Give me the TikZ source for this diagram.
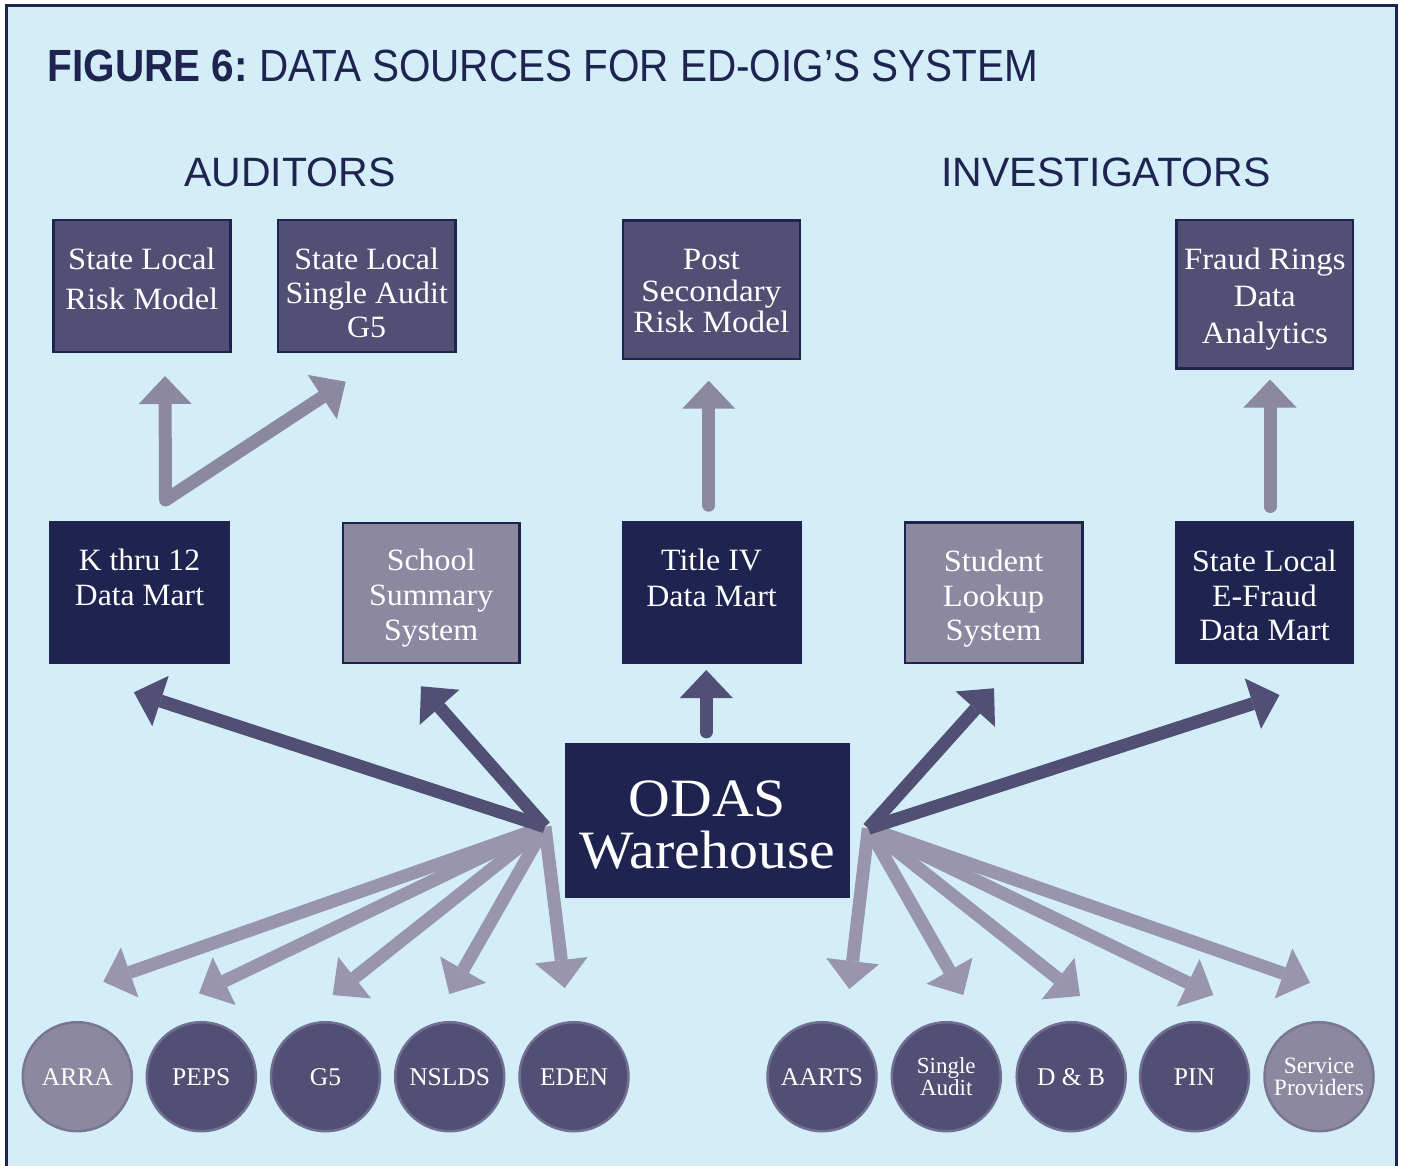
\documentclass[tikz,border=0pt]{standalone}
\usepackage{fontspec}
\setmainfont{Liberation Serif}
\newfontfamily\hvfont{Liberation Sans}
\usepackage{graphicx}
\usetikzlibrary{arrows.meta}
\definecolor{bg}{HTML}{D3EEF8}
\definecolor{navy}{HTML}{1E2350}
\definecolor{purp}{HTML}{524F74}
\definecolor{lpurp}{HTML}{8C889F}
\definecolor{arrtop}{HTML}{8C889F}
\definecolor{arrlow}{HTML}{9995AD}
\definecolor{cbord}{HTML}{726E92}
\definecolor{lcbord}{HTML}{7A7594}
\newcommand\boxlines[4]{{\fontsize{#1}{#2}\selectfont\scalebox{#3}[1]{\begin{tabular}[t]{@{}c@{}}#4\end{tabular}}}}
\begin{document}
\begin{tikzpicture}[x=1pt,y=-1pt,
  >={Triangle[length=28pt,width=53pt,line width=0pt]},
  conn/.style={line width=13pt,->},
  darkc/.style={conn,draw=purp},
  lowc/.style={conn,draw=arrlow},
  topc/.style={conn,draw=arrtop,line cap=round},
  pbox/.style={rectangle,fill=purp,draw=navy,line width=2.5pt,inner sep=0pt},
  lbox/.style={rectangle,fill=lpurp,draw=navy,line width=2.5pt,inner sep=0pt},
  nbox/.style={rectangle,fill=navy,inner sep=0pt},
  btxt/.style={anchor=base,inner sep=0pt,text=white},
  dcirc/.style={circle,minimum size=109pt,fill=purp,draw=cbord,line width=2.5pt,inner sep=0pt,text=white,font=\fontsize{25.5}{25.5}\selectfont},
  lcirc/.style={dcirc,fill=lpurp,draw=lcbord},
  head/.style={anchor=base,inner sep=0pt,text=navy,font=\hvfont\fontsize{41}{41}\selectfont}
]
\useasboundingbox (0,0) rectangle (1403,1165);
\clip (0,0) rectangle (1403,1165);
\fill[white] (0,0) rectangle (1403,1165);
\draw[navy,line width=2.5pt,fill=bg] (6.5,5.5) rectangle (1396.5,1190);

% title and headings
\node[anchor=base west,inner sep=0pt,text=navy,font=\hvfont] (title) at (47.5,81.7)
  {\resizebox{990pt}{31.5pt}{\bfseries FIGURE 6:\mdseries\ DATA SOURCES FOR ED-OIG’S SYSTEM}};
\node[head] (aud) at (290,186.7) {AUDITORS};
\node[head] (inv) at (1106,186.7) {INVESTIGATORS};

% named coordinates for connector ends
\coordinate (L) at (545,826.7);
\coordinate (R) at (868.3,828.3);
\coordinate (tK) at (133.9,692.3);
\coordinate (tS) at (421,686.3);
\coordinate (tSL) at (994,688.3);
\coordinate (tEF) at (1279.5,695);
\coordinate (oTop) at (706.3,731.8);
\coordinate (tT) at (706.3,670);
\coordinate (tArra) at (103.3,981.7);
\coordinate (tPeps) at (199,993.3);
\coordinate (tG) at (332.7,995);
\coordinate (tNs) at (449.3,994);
\coordinate (tEd) at (564.7,988);
\coordinate (tAa) at (849.3,989);
\coordinate (tSa) at (963.3,995);
\coordinate (tDB) at (1080,996);
\coordinate (tPin) at (1213.3,995);
\coordinate (tSP) at (1310,982.7);
\coordinate (vA) at (165,376);
\coordinate (vC) at (165.5,500);
\coordinate (vB) at (345.7,381.7);
\coordinate (t4Top) at (708.7,505.2);
\coordinate (pTip) at (708.7,380.7);
\coordinate (efTop) at (1270,506.5);
\coordinate (frTip) at (1270,379.5);

% light arrows to the sources
\draw[lowc] (L) -- (tArra);
\draw[lowc] (L) -- (tPeps);
\draw[lowc] (L) -- (tG);
\draw[lowc] (L) -- (tNs);
\draw[lowc] (L) -- (tEd);
\draw[lowc] (R) -- (tAa);
\draw[lowc] (R) -- (tSa);
\draw[lowc] (R) -- (tDB);
\draw[lowc] (R) -- (tPin);
\draw[lowc] (R) -- (tSP);

% dark arrows to the marts
\draw[darkc] (L) -- (tK);
\draw[darkc] (L) -- (tS);
\draw[darkc] (R) -- (tSL);
\draw[darkc] (R) -- (tEF);
\draw[darkc,line cap=round] (oTop) -- (tT);

% light arrows up to the models
\draw[topc,<->,line join=round] (vA) -- (vC) -- (vB);
\draw[topc] (t4Top) -- (pTip);
\draw[topc] (efTop) -- (frTip);

% top row boxes
\node[pbox,minimum width=177.2pt,minimum height=131.8pt] (slrm) at (141.85,285.85) {};
\node[btxt] (slrmT) at (141.85,269.3) {\boxlines{31}{39.7}{1.05}{State Local\\Risk Model}};
\node[pbox,minimum width=177.5pt,minimum height=131.8pt] (slsa) at (366.7,285.85) {};
\node[btxt] (slsaT) at (366.7,269.3) {\boxlines{31}{34}{1.03}{State Local\\Single Audit\\G5}};
\node[pbox,minimum width=176.8pt,minimum height=138.5pt] (psrm) at (711.35,289.5) {};
\node[btxt] (psrmT) at (711.35,269.3) {\boxlines{31}{31.7}{1.07}{Post\\Secondary\\Risk Model}};
\node[pbox,minimum width=176.7pt,minimum height=148.4pt] (frda) at (1264.8,294.15) {};
\node[btxt] (frdaT) at (1264.8,269) {\boxlines{31}{37.4}{1.06}{Fraud Rings\\Data\\Analytics}};

% middle row boxes
\node[nbox,minimum width=180.2pt,minimum height=143.3pt] (k12) at (139.5,592.65) {};
\node[btxt] (k12T) at (139.5,570.7) {\boxlines{31}{35}{1.02}{K thru 12\\Data Mart}};
\node[lbox,minimum width=176.6pt,minimum height=139.8pt] (sss) at (431.15,592.85) {};
\node[btxt] (sssT) at (431.15,570.5) {\boxlines{31}{35}{1.03}{School\\Summary\\System}};
\node[nbox,minimum width=179.8pt,minimum height=143.6pt] (t4) at (711.6,592.5) {};
\node[btxt] (t4T) at (711.6,570.7) {\boxlines{31}{35.3}{1.03}{Title IV\\Data Mart}};
\node[lbox,minimum width=177.4pt,minimum height=140.5pt] (sls) at (993.55,592.5) {};
\node[btxt] (slsT) at (993.55,571.4) {\boxlines{31}{34.6}{1.05}{Student\\Lookup\\System}};
\node[nbox,minimum width=179.9pt,minimum height=143pt] (slef) at (1264.45,592.5) {};
\node[btxt] (slefT) at (1264.45,571.4) {\boxlines{31}{34.6}{1.03}{State Local\\E-Fraud\\Data Mart}};

% warehouse
\node[nbox,minimum width=285pt,minimum height=155pt] (odas) at (707.5,820.2) {};
\node[btxt] (odasT) at (707.5,816.7) {\boxlines{54}{47.3}{1.07}{ODAS\\Warehouse}};

% sources
\node[lcirc] (arra) at (77.3,1076.7) {ARRA};
\node[dcirc] (peps) at (201.3,1076.7) {PEPS};
\node[dcirc] (g5) at (325.5,1076.7) {G5};
\node[dcirc] (nslds) at (449.7,1076.7) {NSLDS};
\node[dcirc] (eden) at (574,1076.7) {EDEN};
\node[dcirc] (aarts) at (822,1076.7) {AARTS};
\node[dcirc,align=center,font=\fontsize{23}{21.7}\selectfont] (sa) at (946.3,1076.7) {Single\\Audit};
\node[dcirc] (db) at (1071.2,1076.7) {D \& B};
\node[dcirc] (pin) at (1194.5,1076.7) {PIN};
\node[lcirc,align=center,font=\fontsize{23.5}{22.3}\selectfont] (sp) at (1319,1076.7) {Service\\Providers};
\end{tikzpicture}
\end{document}
